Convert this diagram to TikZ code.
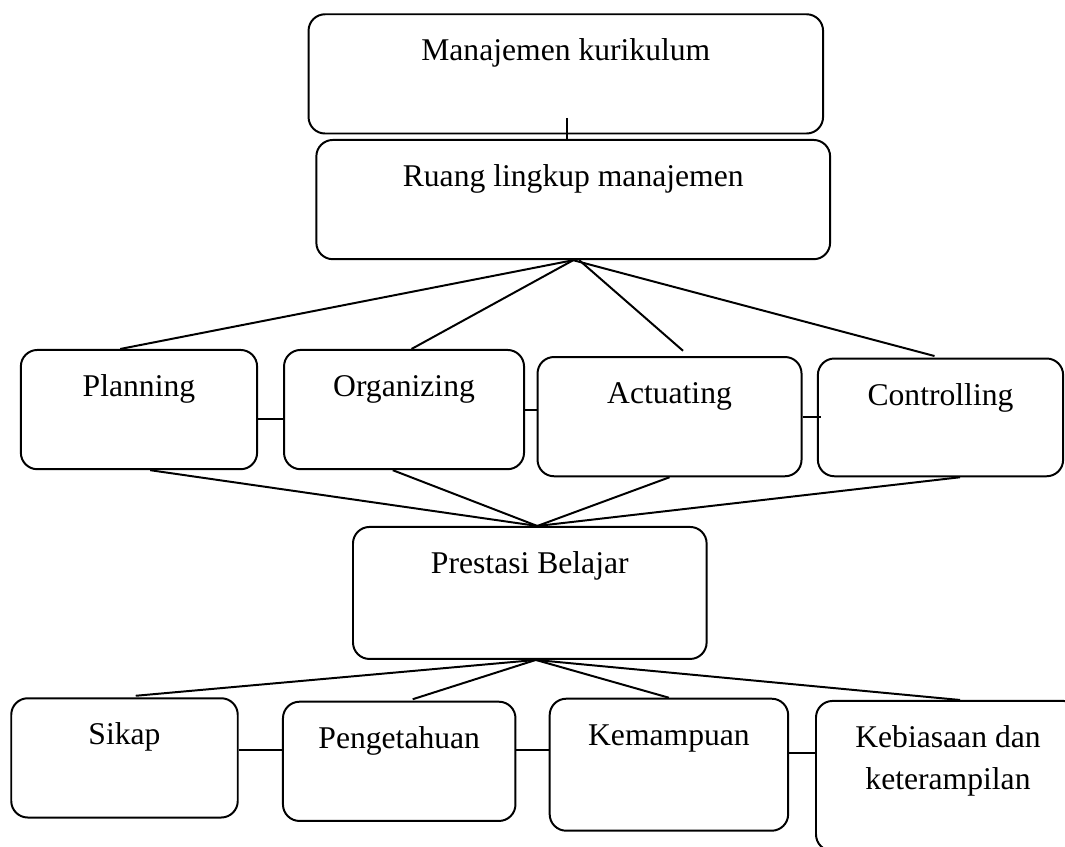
\documentclass[tikz,border=0pt]{standalone}
\usepackage{fontspec}
\setmainfont{Liberation Serif}
\usetikzlibrary{calc}
\tikzset{
  box/.style={draw,rounded corners=0.22cm,line width=.75pt,anchor=north,
    align=center,inner sep=0pt,text height=0.62cm,text depth=0.97cm,
    font=\fontsize{12}{15.7}\selectfont},
  link/.style={line width=.75pt}}

\begin{document}
\begin{tikzpicture}
  \useasboundingbox (0,0) rectangle (14.2,11.28);
  \clip (0,0) rectangle (14.2,11.28);

  % manajemen
  \node[box,minimum width=6.86cm] (mk) at (7.544,11.103) {Manajemen kurikulum};
  \node[box,minimum width=6.85cm] (rl) at (7.643,9.427) {Ruang lingkup manajemen};

  % fungsi
  \node[box,minimum width=3.15cm] (pl) at (1.853,6.627) {Planning};
  \node[box,minimum width=3.2cm] (org) at (5.387,6.627) {Organizing};
  \node[box,minimum width=3.52cm] (act) at (8.927,6.533) {Actuating};
  \node[box,minimum width=3.27cm,text depth=0.95cm] (ctl) at (12.54,6.513)
    {Controlling};

  % prestasi
  \node[box,minimum width=4.715cm,text depth=1.14cm] (pb) at (7.064,4.267)
    {Prestasi Belajar};
  \node[box,minimum width=3.02cm] (sk) at (1.66,1.983) {Sikap};
  \node[box,minimum width=3.1cm] (pg) at (5.323,1.937) {Pengetahuan};
  \node[box,minimum width=3.18cm,text depth=1.14cm] (km) at (8.919,1.977)
    {Kemampuan};
  \node[box,minimum width=3.52cm,text height=1.175cm,text depth=0.825cm]
    (kb) at (12.64,1.947) {Kebiasaan dan\\keterampilan};

  \coordinate (mkin) at ($(mk.south)+(0.02,0.22)$);
  \draw[link] (mkin) -- (mkin |- rl.north);

  \draw[link] (rl.south) -- ($(pl.north)+(-0.25,0)$);
  \draw[link] (rl.south) -- ($(org.north)+(0.1,0)$);
  \draw[link] ($(rl.south)+(0.08,0)$) -- ($(act.north)+(0.18,0.07)$);
  \draw[link] (rl.south) -- ($(ctl.north)+(-0.08,0.02)$);

  \coordinate (pbin) at ($(pb.north)+(0.1,0)$);
  \draw[link] ($(pl.south)+(0.15,0)$) -- (pbin);
  \draw[link] ($(org.south)+(-0.15,0)$) -- (pbin);
  \draw[link] (act.south) -- (pbin);
  \draw[link] ($(ctl.south)+(0.26,0)$) -- (pbin);

  \coordinate (pbout) at ($(pb.south)+(0.08,0)$);
  \draw[link] (pbout) -- ($(sk.north)+(0.15,0.02)$);
  \draw[link] (pbout) -- ($(pg.north)+(0.18,0.02)$);
  \draw[link] (pbout) -- (km.north);
  \draw[link] (pbout) -- ($(kb.north)+(0.16,0)$);

  % sambungan mendatar
  \draw[link] ($(pl.east)+(0,-0.12)$) -- ($(org.west)+(0,-0.12)$);
  \draw[link] (org.east) -- (org.east -| act.west);
  \draw[link] (act.east) -- ($(act.east -| ctl.west)+(0.05,0)$);
  \path (sk.east) ++(0,0.1) coordinate (skpg);
  \draw[link] (skpg) -- (skpg -| pg.west);
  \path (pg.east) ++(0,0.147) coordinate (pgkm);
  \draw[link] (pgkm) -- (pgkm -| km.west);
  \path (km.east) ++(0,0.16) coordinate (kmkb);
  \draw[link] (kmkb) -- (kmkb -| kb.west);
\end{tikzpicture}
\end{document}
